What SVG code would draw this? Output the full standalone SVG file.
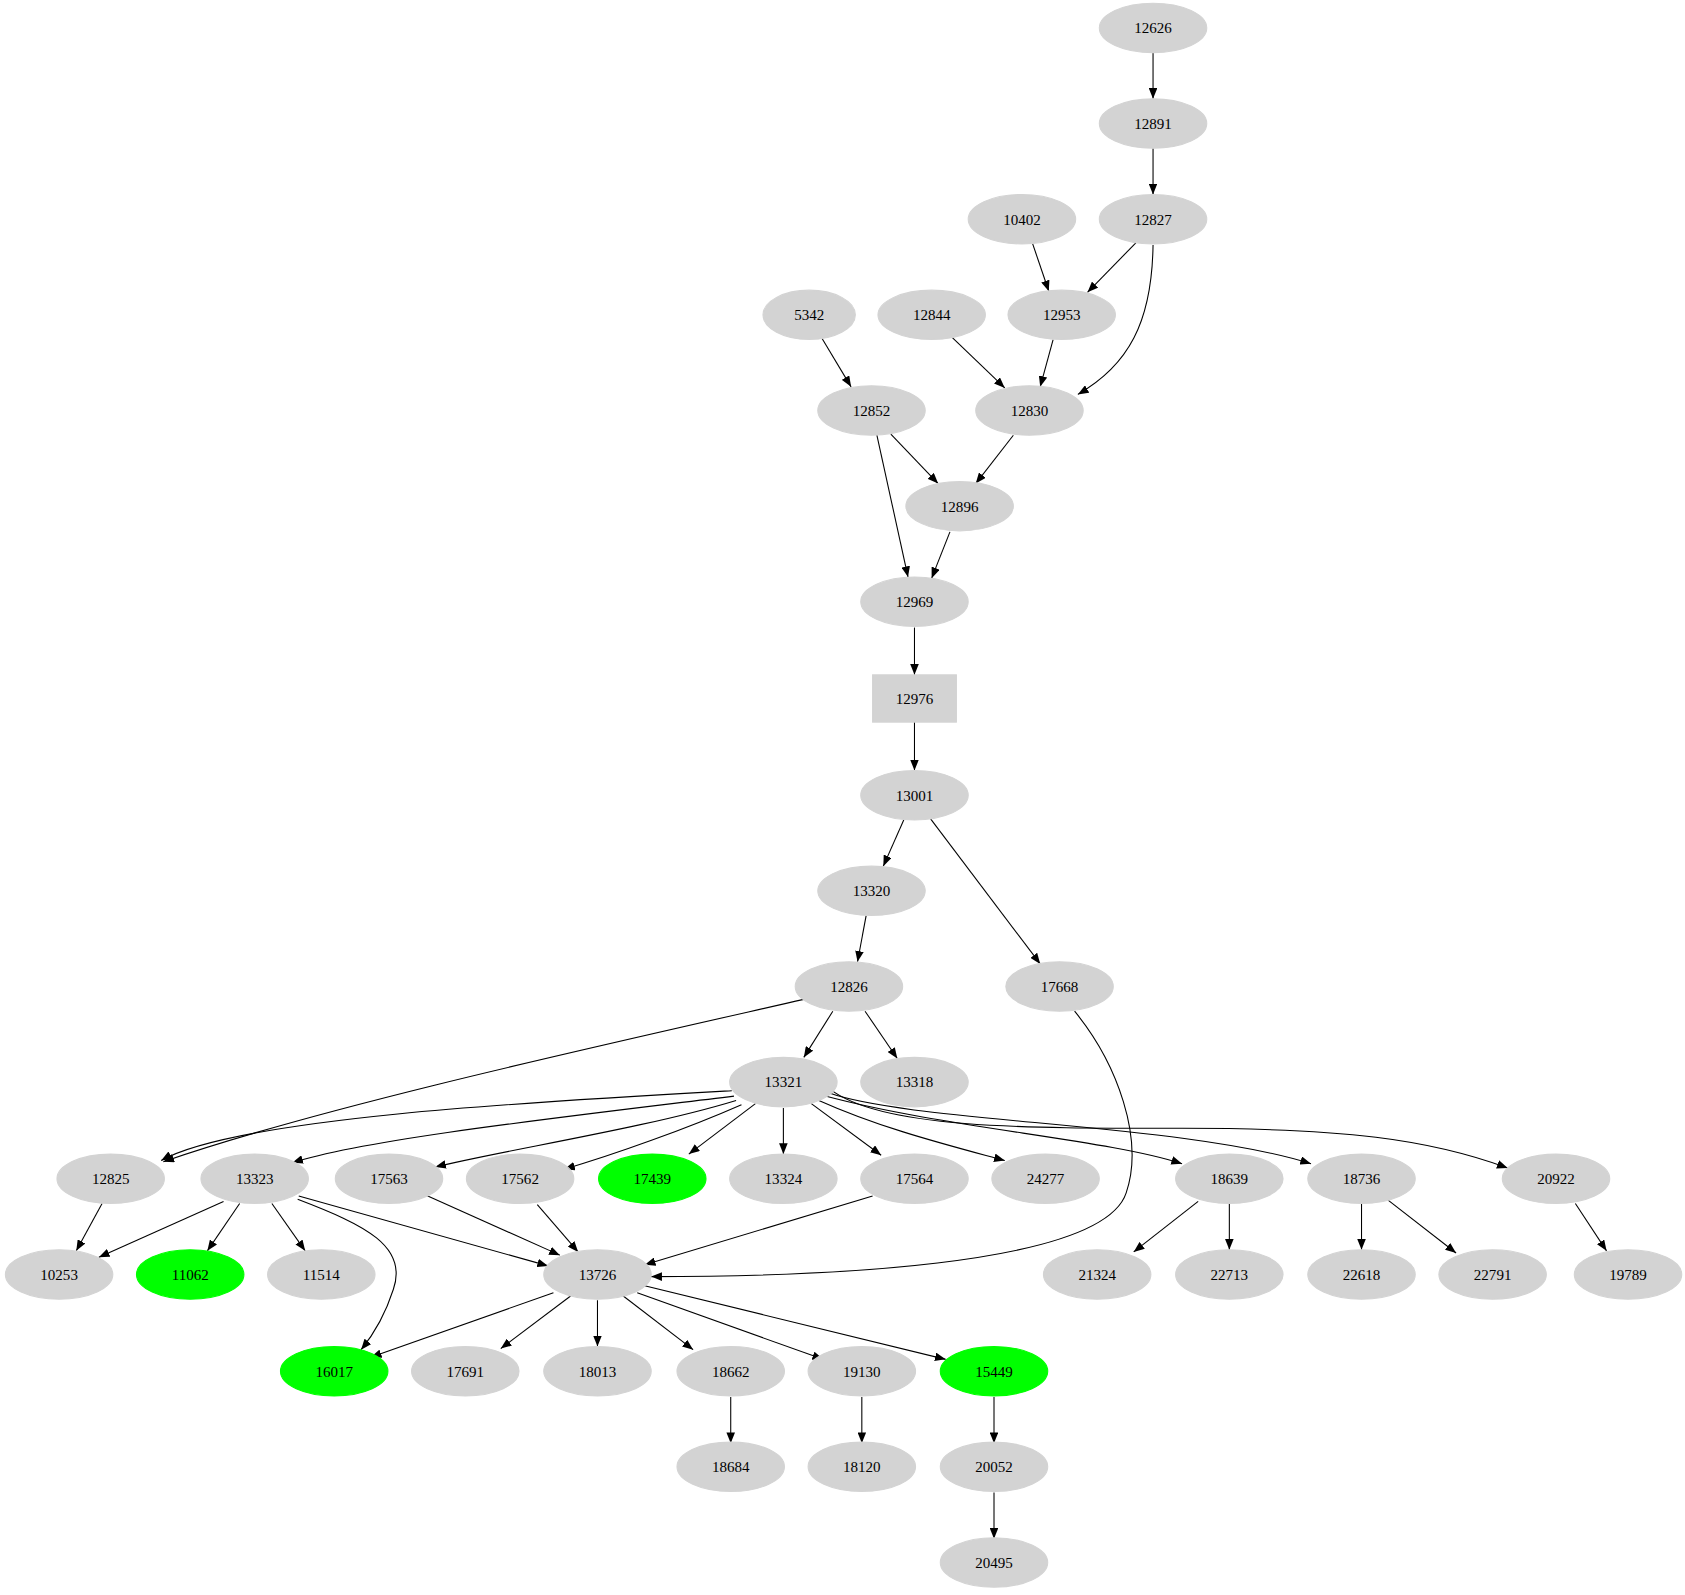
<svg xmlns="http://www.w3.org/2000/svg" width="1685" height="1595" viewBox="0 0 1685 1595">
<style>
.n ellipse,.n rect{fill:#d3d3d3;stroke:#d3d3d3}
.g ellipse{fill:#00ff00;stroke:#00ff00}
text{font-family:"Liberation Serif","Times New Roman",serif;font-size:14px;text-anchor:middle;fill:#000}
#edges path{fill:none;stroke:#000;stroke-width:1;marker-end:url(#a)}
</style>
<defs><marker id="a" markerUnits="userSpaceOnUse" markerWidth="10" markerHeight="8" refX="10" refY="4" orient="auto"><path d="M0,0 L10,4 L0,8 Z" fill="#000"/></marker></defs>
<rect width="1685" height="1595" fill="#fff"/>
<g transform="scale(1.0746)">
<g id="edges">
<path d="M1073,49 L1073,92"/>
<path d="M1073,138 L1073,181"/>
<path d="M961,227 L976,271"/>
<path d="M1057,226 L1012,272"/>
<path d="M1073,228 C1072,300 1050,340 1003,367"/>
<path d="M765,315 L792,360"/>
<path d="M886,314 L935,361"/>
<path d="M980,316 L968,360"/>
<path d="M829,404 L873,450"/>
<path d="M943,405 L908,450"/>
<path d="M816,405 L845,537"/>
<path d="M884,495 L867,538"/>
<path d="M851,584 L851,628"/>
<path d="M851,672 L851,717"/>
<path d="M841,763 L822,806"/>
<path d="M866,762 L968,897"/>
<path d="M806,852 L798,895"/>
<path d="M775,941 L748,984"/>
<path d="M805,941 L835,985"/>
<path d="M748,930 C550,975 300,1030 152,1081"/>
<path d="M1000,941 C1040,990 1065,1060 1048,1110 C1025,1180 750,1188 606,1188"/>
<path d="M681,1015 C500,1025 220,1040 150,1080"/>
<path d="M683,1020 C520,1040 340,1060 272,1082"/>
<path d="M685,1024 C600,1050 470,1070 405,1086"/>
<path d="M690,1028 C640,1050 570,1075 525,1088"/>
<path d="M703,1027 L641,1074"/>
<path d="M729,1031 L729,1074"/>
<path d="M755,1027 L820,1075"/>
<path d="M762,1024 C820,1050 880,1065 935,1080"/>
<path d="M768,1020 C880,1050 1030,1060 1100,1083"/>
<path d="M771,1017 C850,1045 1100,1045 1220,1083"/>
<path d="M773,1014 C820,1050 950,1050 1100,1050 C1250,1050 1330,1060 1403,1087"/>
<path d="M95,1120 L71,1164"/>
<path d="M208,1118 L92,1170"/>
<path d="M223,1120 L193,1164"/>
<path d="M253,1120 L284,1164"/>
<path d="M278,1113 L510,1178"/>
<path d="M277,1116 C340,1140 380,1160 366,1200 C358,1225 345,1245 336,1256"/>
<path d="M396,1112 L521,1168"/>
<path d="M500,1121 L538,1165"/>
<path d="M812,1113 L600,1177"/>
<path d="M1115,1118 L1055,1165"/>
<path d="M1144,1120 L1144,1163"/>
<path d="M1267,1120 L1267,1163"/>
<path d="M1292,1117 L1355,1166"/>
<path d="M1466,1120 L1495,1164"/>
<path d="M515,1203 L345,1263"/>
<path d="M531,1206 L466,1255"/>
<path d="M556,1210 L556,1253"/>
<path d="M580,1206 L645,1256"/>
<path d="M593,1203 L766,1265"/>
<path d="M598,1196 L880,1265"/>
<path d="M680,1300 L680,1343"/>
<path d="M802,1300 L802,1343"/>
<path d="M925,1300 L925,1343"/>
<path d="M925,1389 L925,1432"/>
</g>
<g id="n12626" class="n"><ellipse cx="1073" cy="26" rx="50" ry="23"/><text x="1073" y="31">12626</text></g>
<g id="n12891" class="n"><ellipse cx="1073" cy="115" rx="50" ry="23"/><text x="1073" y="120">12891</text></g>
<g id="n10402" class="n"><ellipse cx="951" cy="204" rx="50" ry="23"/><text x="951" y="209">10402</text></g>
<g id="n12827" class="n"><ellipse cx="1073" cy="204" rx="50" ry="23"/><text x="1073" y="209">12827</text></g>
<g id="n5342" class="n"><ellipse cx="753" cy="293" rx="43" ry="23"/><text x="753" y="298">5342</text></g>
<g id="n12844" class="n"><ellipse cx="867" cy="293" rx="50" ry="23"/><text x="867" y="298">12844</text></g>
<g id="n12953" class="n"><ellipse cx="988" cy="293" rx="50" ry="23"/><text x="988" y="298">12953</text></g>
<g id="n12852" class="n"><ellipse cx="811" cy="382" rx="50" ry="23"/><text x="811" y="387">12852</text></g>
<g id="n12830" class="n"><ellipse cx="958" cy="382" rx="50" ry="23"/><text x="958" y="387">12830</text></g>
<g id="n12896" class="n"><ellipse cx="893" cy="471" rx="50" ry="23"/><text x="893" y="476">12896</text></g>
<g id="n12969" class="n"><ellipse cx="851" cy="560" rx="50" ry="23"/><text x="851" y="565">12969</text></g>
<g id="n12976" class="n"><rect x="812" y="628" width="78" height="44"/><text x="851" y="655">12976</text></g>
<g id="n13001" class="n"><ellipse cx="851" cy="740" rx="50" ry="23"/><text x="851" y="745">13001</text></g>
<g id="n13320" class="n"><ellipse cx="811" cy="829" rx="50" ry="23"/><text x="811" y="834">13320</text></g>
<g id="n12826" class="n"><ellipse cx="790" cy="918" rx="50" ry="23"/><text x="790" y="923">12826</text></g>
<g id="n17668" class="n"><ellipse cx="986" cy="918" rx="50" ry="23"/><text x="986" y="923">17668</text></g>
<g id="n13321" class="n"><ellipse cx="729" cy="1007" rx="50" ry="23"/><text x="729" y="1012">13321</text></g>
<g id="n13318" class="n"><ellipse cx="851" cy="1007" rx="50" ry="23"/><text x="851" y="1012">13318</text></g>
<g id="n12825" class="n"><ellipse cx="103" cy="1097" rx="50" ry="23"/><text x="103" y="1102">12825</text></g>
<g id="n13323" class="n"><ellipse cx="237" cy="1097" rx="50" ry="23"/><text x="237" y="1102">13323</text></g>
<g id="n17563" class="n"><ellipse cx="362" cy="1097" rx="50" ry="23"/><text x="362" y="1102">17563</text></g>
<g id="n17562" class="n"><ellipse cx="484" cy="1097" rx="50" ry="23"/><text x="484" y="1102">17562</text></g>
<g id="n17439" class="n g"><ellipse cx="607" cy="1097" rx="50" ry="23"/><text x="607" y="1102">17439</text></g>
<g id="n13324" class="n"><ellipse cx="729" cy="1097" rx="50" ry="23"/><text x="729" y="1102">13324</text></g>
<g id="n17564" class="n"><ellipse cx="851" cy="1097" rx="50" ry="23"/><text x="851" y="1102">17564</text></g>
<g id="n24277" class="n"><ellipse cx="973" cy="1097" rx="50" ry="23"/><text x="973" y="1102">24277</text></g>
<g id="n18639" class="n"><ellipse cx="1144" cy="1097" rx="50" ry="23"/><text x="1144" y="1102">18639</text></g>
<g id="n18736" class="n"><ellipse cx="1267" cy="1097" rx="50" ry="23"/><text x="1267" y="1102">18736</text></g>
<g id="n20922" class="n"><ellipse cx="1448" cy="1097" rx="50" ry="23"/><text x="1448" y="1102">20922</text></g>
<g id="n10253" class="n"><ellipse cx="55" cy="1186" rx="50" ry="23"/><text x="55" y="1191">10253</text></g>
<g id="n11062" class="n g"><ellipse cx="177" cy="1186" rx="50" ry="23"/><text x="177" y="1191">11062</text></g>
<g id="n11514" class="n"><ellipse cx="299" cy="1186" rx="50" ry="23"/><text x="299" y="1191">11514</text></g>
<g id="n13726" class="n"><ellipse cx="556" cy="1186" rx="50" ry="23"/><text x="556" y="1191">13726</text></g>
<g id="n21324" class="n"><ellipse cx="1021" cy="1186" rx="50" ry="23"/><text x="1021" y="1191">21324</text></g>
<g id="n22713" class="n"><ellipse cx="1144" cy="1186" rx="50" ry="23"/><text x="1144" y="1191">22713</text></g>
<g id="n22618" class="n"><ellipse cx="1267" cy="1186" rx="50" ry="23"/><text x="1267" y="1191">22618</text></g>
<g id="n22791" class="n"><ellipse cx="1389" cy="1186" rx="50" ry="23"/><text x="1389" y="1191">22791</text></g>
<g id="n19789" class="n"><ellipse cx="1515" cy="1186" rx="50" ry="23"/><text x="1515" y="1191">19789</text></g>
<g id="n16017" class="n g"><ellipse cx="311" cy="1276" rx="50" ry="23"/><text x="311" y="1281">16017</text></g>
<g id="n17691" class="n"><ellipse cx="433" cy="1276" rx="50" ry="23"/><text x="433" y="1281">17691</text></g>
<g id="n18013" class="n"><ellipse cx="556" cy="1276" rx="50" ry="23"/><text x="556" y="1281">18013</text></g>
<g id="n18662" class="n"><ellipse cx="680" cy="1276" rx="50" ry="23"/><text x="680" y="1281">18662</text></g>
<g id="n19130" class="n"><ellipse cx="802" cy="1276" rx="50" ry="23"/><text x="802" y="1281">19130</text></g>
<g id="n15449" class="n g"><ellipse cx="925" cy="1276" rx="50" ry="23"/><text x="925" y="1281">15449</text></g>
<g id="n18684" class="n"><ellipse cx="680" cy="1365" rx="50" ry="23"/><text x="680" y="1370">18684</text></g>
<g id="n18120" class="n"><ellipse cx="802" cy="1365" rx="50" ry="23"/><text x="802" y="1370">18120</text></g>
<g id="n20052" class="n"><ellipse cx="925" cy="1365" rx="50" ry="23"/><text x="925" y="1370">20052</text></g>
<g id="n20495" class="n"><ellipse cx="925" cy="1454" rx="50" ry="23"/><text x="925" y="1459">20495</text></g>
</g>
</svg>
